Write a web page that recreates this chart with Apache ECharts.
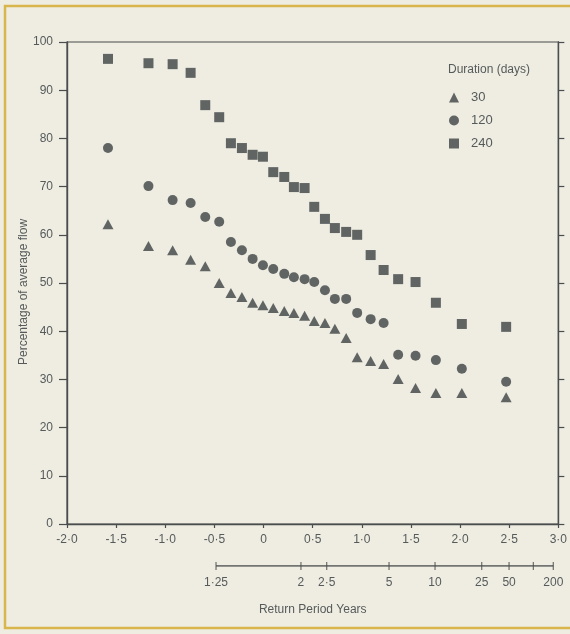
<!DOCTYPE html>
<html>
<head>
<meta charset="utf-8">
<script src="https://cdn.jsdelivr.net/npm/echarts@6/dist/echarts.min.js"></script>
<style>
html,body{margin:0;padding:0;background:#f4f2e8;}
#chart{width:570px;height:634px;}
</style>
</head>
<body>
<div id="chart"></div>
<script>
// Reduced variate (plotting position) of each ranked year
const xPositions = [-1.583,-1.171,-0.925,-0.742,-0.593,-0.451,-0.332,-0.22,-0.111,-0.006,0.099,0.211,0.309,0.418,0.516,0.625,0.726,0.841,0.953,1.09,1.222,1.37,1.547,1.754,2.018,2.469];
// Percentage of average flow for each duration
const flow30  = [62.2,57.7,56.8,54.8,53.5,50.0,47.9,47.1,45.9,45.4,44.8,44.2,43.8,43.2,42.1,41.7,40.5,38.6,34.6,33.8,33.2,30.1,28.2,27.2,27.2,26.3];
const flow120 = [78.0,70.1,67.2,66.6,63.7,62.7,58.5,56.8,55.0,53.7,52.9,51.9,51.2,50.8,50.2,48.5,46.7,46.7,43.8,42.5,41.7,35.1,34.9,34.0,32.2,29.5];
const flow240 = [96.5,95.6,95.4,93.6,86.9,84.4,79.0,78.0,76.6,76.2,73.0,72.0,69.9,69.7,65.8,63.3,61.4,60.6,60.0,55.8,52.7,50.8,50.2,45.9,41.5,40.9];
// Secondary scale: return period ticks
const returnPeriodLabels = ['1·25','2','2·5','5','10','25','50','','200'];
const returnPeriodPositions = [-0.484,0.380,0.642,1.276,1.744,2.219,2.497,2.744,2.947];
const durationNames = ['30','120','240'];

const FONT = '"Liberation Sans", Arial, sans-serif';
const TXT = '#555a5a';
const AX = '#4a4d4d';
const MK = '#3c4244';

function pairs(ys){ return xPositions.map((x,i)=>[x, ys[i]]); }
function fmtX(v){ if (Math.abs(v) < 1e-9) return '0'; return v.toFixed(1).replace('.', '·'); }

const chart = echarts.init(document.getElementById('chart'), null, {renderer:'canvas'});
chart.setOption({
  backgroundColor: '#efede2',
  animation: false,
  textStyle: {fontFamily: FONT},
  title: {
    text: 'Duration (days)', left: 443, top: 59,
    textStyle: {fontSize: 12, fontWeight: 'normal', color: TXT, fontFamily: FONT}
  },
  legend: {
    orient: 'vertical', left: 444, top: 86,
    itemWidth: 10, itemHeight: 10, itemGap: 10,
    data: durationNames,
    textStyle: {fontSize: 13, color: TXT, fontFamily: FONT, padding: [0,0,0,7]}
  },
  grid: [
    {left: 67, right: 11.5, top: 42, bottom: 110, show: true, borderColor: AX, borderWidth: 1.2, backgroundColor: 'transparent'},
    {left: 67, right: 11.5, top: 556, height: 10}
  ],
  xAxis: [
    {
      type: 'value', gridIndex: 0, min: -2, max: 3, interval: 0.5,
      axisLine: {onZero: false, lineStyle: {color: AX, width: 1.4}},
      axisTick: {length: 4, lineStyle: {color: AX, width: 1.2}},
      axisLabel: {color: TXT, fontSize: 12, margin: 10, formatter: fmtX, fontFamily: FONT},
      splitLine: {show: false}
    },
    {
      type: 'value', gridIndex: 1, min: -2, max: 3,
      axisLine: {show: false, onZero: false}, axisTick: {show: false}, splitLine: {show: false},
      axisLabel: {
        color: TXT, fontSize: 12, margin: 11, fontFamily: FONT,
        customValues: returnPeriodPositions,
        formatter: function(v){ const i = returnPeriodPositions.findIndex(p => Math.abs(p - v) < 1e-6); return i >= 0 ? returnPeriodLabels[i] : ''; }
      },
      name: 'Return Period Years', nameLocation: 'middle', nameGap: 38,
      nameTextStyle: {color: TXT, fontSize: 12, fontFamily: FONT}
    }
  ],
  yAxis: [
    {
      type: 'value', gridIndex: 0, min: 0, max: 100, interval: 10,
      axisLine: {show: true, onZero: false, lineStyle: {color: AX, width: 1.4}},
      axisTick: {show: true, length: 8, lineStyle: {color: AX, width: 1.2}},
      axisLabel: {color: TXT, fontSize: 12, margin: 14, fontFamily: FONT},
      splitLine: {show: false}
    },
    {
      type: 'value', gridIndex: 0, min: 0, max: 100, interval: 10, position: 'right',
      axisLine: {show: true, onZero: false, lineStyle: {color: AX, width: 1.4}},
      axisTick: {show: true, length: 6, lineStyle: {color: AX, width: 1.2}},
      axisLabel: {show: false}, splitLine: {show: false}
    },
    {type: 'value', gridIndex: 1, min: 0, max: 1, show: false}
  ],
  graphic: [
    {type: 'rect', shape: {x: 5, y: 6, width: 600, height: 622}, style: {fill: 'none', stroke: '#d9b64c', lineWidth: 2.5}, silent: true, z: 100},
    {type: 'text', x: 24, y: 292, rotation: Math.PI/2,
     style: {text: 'Percentage of average flow', fill: TXT, font: '12px ' + FONT, align: 'center', verticalAlign: 'middle'}}
  ],
  series: [
    {name: '30', type: 'scatter', xAxisIndex: 0, yAxisIndex: 0, symbol: 'triangle', symbolSize: [11,10], itemStyle: {color: MK}, data: pairs(flow30)},
    {name: '120', type: 'scatter', xAxisIndex: 0, yAxisIndex: 0, symbol: 'circle', symbolSize: 10, itemStyle: {color: MK}, data: pairs(flow120)},
    {name: '240', type: 'scatter', xAxisIndex: 0, yAxisIndex: 0, symbol: 'rect', symbolSize: 10, itemStyle: {color: MK}, data: pairs(flow240)},
    {type: 'line', xAxisIndex: 1, yAxisIndex: 2, symbol: 'none', silent: true,
     lineStyle: {color: AX, width: 1.3},
     data: [[returnPeriodPositions[0], 0], [returnPeriodPositions[returnPeriodPositions.length-1], 0]]},
    {type: 'scatter', xAxisIndex: 1, yAxisIndex: 2, symbol: 'rect', symbolSize: [1.2, 8], silent: true,
     itemStyle: {color: AX}, data: returnPeriodPositions.map(p => [p, 0])}
  ]
});
</script>
</body>
</html>
